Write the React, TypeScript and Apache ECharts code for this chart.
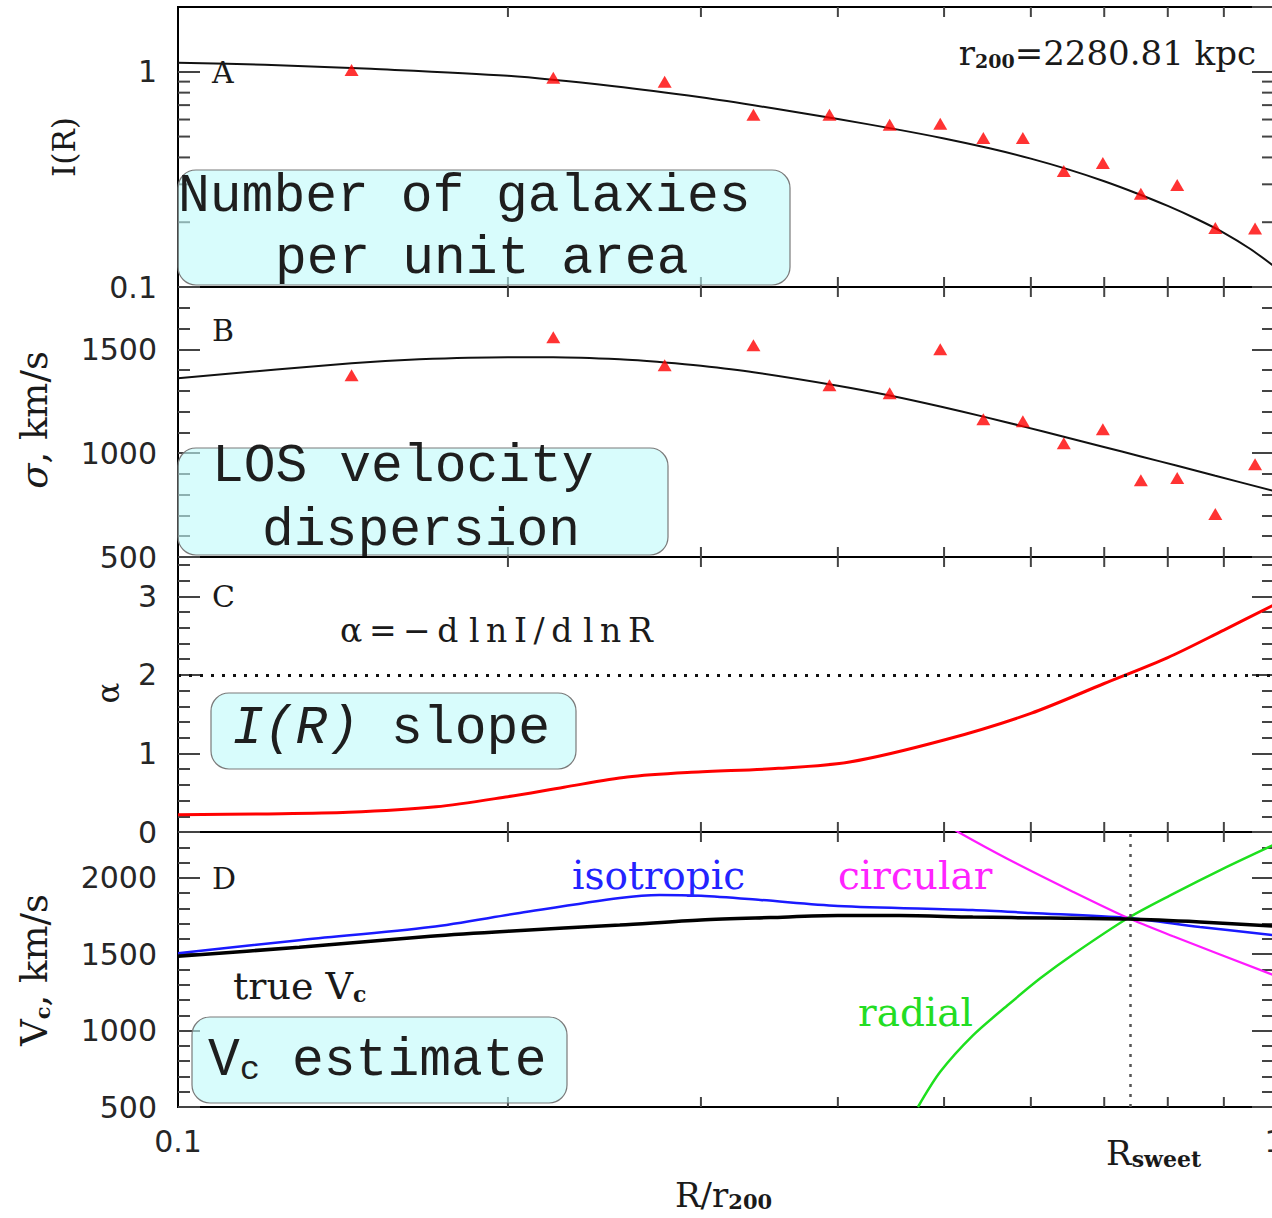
import React, { useEffect, useRef } from 'react';
import * as echarts from 'echarts';

// ---------------- data ----------------
const X_RANGE = [0.1, 1.0];
const X_MINOR_TICKS = [0.2, 0.3, 0.4, 0.5, 0.6, 0.7, 0.8, 0.9];
const A_Y_MINOR_TICKS = [0.2, 0.3, 0.4, 0.5, 0.6, 0.7, 0.8, 0.9];
const R_SWEET = 0.736;

// Panel A: surface density I(R)
const A_RANGE = [0.1, 2];
const A_PTS_R = [0.144, 0.22, 0.278, 0.335, 0.393, 0.446, 0.496, 0.543, 0.59, 0.643, 0.698, 0.756, 0.816, 0.884, 0.961];
const A_PTS_I = [1.02, 0.938, 0.899, 0.631, 0.631, 0.567, 0.573, 0.493, 0.493, 0.346, 0.377, 0.271, 0.298, 0.188, 0.187];
const A_FIT_R = [0.1, 0.12, 0.15, 0.2, 0.25, 0.3, 0.35, 0.4, 0.45, 0.5, 0.55, 0.6, 0.65, 0.7, 0.75, 0.8, 0.85, 0.9, 0.95, 1.0];
const A_FIT_I = [1.101, 1.078, 1.032, 0.958, 0.857, 0.761, 0.675, 0.603, 0.543, 0.49, 0.441, 0.395, 0.351, 0.31, 0.272, 0.238, 0.207, 0.1786, 0.151, 0.125];

// Panel B: LOS velocity dispersion
const B_RANGE = [500, 1800];
const B_STEPS = [100, 500];
const B_PTS_R = A_PTS_R;
const B_PTS_S = [1375, 1558, 1423, 1519, 1327, 1288, 1500, 1163, 1154, 1048, 1115, 870, 880, 707, 947];
const B_FIT_R = [0.1, 0.144, 0.166, 0.2, 0.22, 0.253, 0.278, 0.3, 0.335, 0.4, 0.446, 0.496, 0.543, 0.59, 0.643, 0.698, 0.756, 0.816, 0.884, 1.0];
const B_FIT_S = [1361, 1433, 1452, 1462, 1462, 1452, 1437, 1421, 1390, 1325, 1278, 1225, 1176, 1129, 1079, 1031, 984, 939, 891, 818];

// Panel C: slope alpha
const C_RANGE = [0, 3.5];
const C_STEPS = [0.2, 1];
const C_R = [0.1, 0.12, 0.143, 0.172, 0.2, 0.225, 0.257, 0.294, 0.353, 0.41, 0.5, 0.6, 0.7, 0.8, 0.9, 1.0];
const C_ALPHA = [0.22, 0.23, 0.25, 0.32, 0.45, 0.57, 0.7, 0.76, 0.81, 0.89, 1.17, 1.51, 1.89, 2.22, 2.57, 2.89];
const C_REF = 2;

// Panel D: circular velocity
const D_RANGE = [500, 2300];
const D_STEPS = [100, 500];
const D_TRUE_R = [0.1, 0.129, 0.17, 0.2, 0.253, 0.3, 0.347, 0.4, 0.455, 0.531, 0.625, 0.736, 0.856, 1.0];
const D_TRUE_V = [1487, 1546, 1618, 1651, 1691, 1724, 1740, 1753, 1753, 1743, 1737, 1730, 1711, 1684];
const D_ISO_R = [0.1, 0.129, 0.17, 0.205, 0.253, 0.275, 0.3, 0.34, 0.4, 0.531, 0.6, 0.736, 0.856, 1.0];
const D_ISO_V = [1507, 1592, 1678, 1770, 1868, 1888, 1882, 1855, 1816, 1789, 1770, 1737, 1678, 1625];
const D_CIRC_R = [0.505, 0.515, 0.571, 0.656, 0.736, 0.809, 1.0];
const D_CIRC_V = [2340, 2300, 2125, 1908, 1737, 1618, 1362];
const D_RAD_R = [0.4733, 0.496, 0.531, 0.571, 0.612, 0.656, 0.736, 0.809, 0.898, 1.0];
const D_RAD_V = [500, 730, 967, 1164, 1342, 1500, 1737, 1895, 2059, 2217];

// ---------------- styles ----------------
const SERIF = '"DejaVu Serif", serif';
const SANS = '"DejaVu Sans", sans-serif';
const MONO = '"Liberation Mono", "DejaVu Sans Mono", monospace';
const TICK_COLOR = '#444';
const LABEL_COLOR = '#262626';
const BOX_FILL = 'rgba(190,250,250,0.6)';
const TS = '\u2009';

const pairs = (xs: number[], ys: number[]) => xs.map((x, i) => [x, ys[i]]);
const fmt = (v: number) => String(+(+v).toPrecision(6));

const GRIDS = [
  { top: 7, height: 280 },
  { top: 287, height: 270 },
  { top: 557, height: 275 },
  { top: 832, height: 275 },
].map((g) => ({
  ...g, left: 178, width: 1096, show: true, borderColor: '#000', borderWidth: 2,
  backgroundColor: 'transparent', containLabel: false, outerBoundsMode: 'none',
}));

const tickLine = { color: TICK_COLOR, width: 2 };
const yLabel = { fontFamily: SANS, fontSize: 30, color: LABEL_COLOR, margin: 21, showMaxLabel: false, formatter: fmt };

function linearAxes(gridIndex: number, range: number[], steps: number[]) {
  const base = {
    type: 'value', gridIndex, min: range[0], max: range[1],
    splitLine: { show: false }, axisLine: { show: false },
  };
  return [
    { ...base, position: 'left', interval: steps[1], axisTick: { inside: true, length: 22, lineStyle: tickLine }, axisLabel: yLabel },
    { ...base, position: 'left', interval: steps[0], axisTick: { inside: true, length: 12, lineStyle: tickLine }, axisLabel: { show: false } },
    { ...base, position: 'right', interval: steps[1], axisTick: { inside: true, length: 22, lineStyle: tickLine }, axisLabel: { show: false } },
    { ...base, position: 'right', interval: steps[0], axisTick: { inside: true, length: 12, lineStyle: tickLine }, axisLabel: { show: false } },
  ];
}

function xTickSeries(gridIndex: number, yAxisIndex: number, yRef: number) {
  return {
    type: 'custom', xAxisIndex: gridIndex, yAxisIndex, silent: true, z: 6,
    data: X_MINOR_TICKS.map((v) => [v, yRef]),
    renderItem: (params: any, api: any) => {
      const cs = params.coordSys;
      const x = api.coord([api.value(0), api.value(1)])[0];
      const style = { stroke: TICK_COLOR, lineWidth: 2 };
      return {
        type: 'group',
        children: [
          { type: 'line', shape: { x1: x, y1: cs.y, x2: x, y2: cs.y + 10 }, style },
          { type: 'line', shape: { x1: x, y1: cs.y + cs.height, x2: x, y2: cs.y + cs.height - 10 }, style },
        ],
      };
    },
  };
}

const subRich = (mainFont: string, mainSize: number, subSize: number, pad: number, subBold = true, color = '#1a1a1a') => ({
  m: { fontFamily: mainFont, fontSize: mainSize, lineHeight: mainSize, fill: color, verticalAlign: 'top' },
  s: {
    fontFamily: mainFont, fontSize: subSize, lineHeight: subSize, fontWeight: subBold ? 'bold' : 'normal',
    fill: color, verticalAlign: 'bottom', padding: [pad, 0, 0, 0],
  },
});

function buildOption(): any {
  const xAxis = GRIDS.map((_, i) => ({
    type: 'log', gridIndex: i, min: X_RANGE[0], max: X_RANGE[1], position: 'bottom',
    axisLine: { show: false }, axisTick: { show: false }, splitLine: { show: false },
    axisLabel: i === 3 ? { fontFamily: SANS, fontSize: 30, color: LABEL_COLOR, margin: 19, formatter: fmt } : { show: false },
  }));

  const logBase = {
    type: 'log', gridIndex: 0, min: A_RANGE[0], max: A_RANGE[1],
    splitLine: { show: false }, axisLine: { show: false },
    axisTick: { inside: true, length: 22, lineStyle: tickLine },
  };
  const yAxis = [
    { ...logBase, position: 'left', axisLabel: yLabel },
    { ...logBase, position: 'right', axisLabel: { show: false } },
    ...linearAxes(1, B_RANGE, B_STEPS),
    ...linearAxes(2, C_RANGE, C_STEPS),
    ...linearAxes(3, D_RANGE, D_STEPS),
  ];

  const lineBase = { type: 'line', showSymbol: false, silent: true, smooth: 0.3, clip: true };

  const series: any[] = [
    xTickSeries(0, 0, 1),
    xTickSeries(1, 2, 1000),
    xTickSeries(2, 6, 1),
    xTickSeries(3, 10, 1000),
    {
      type: 'custom', xAxisIndex: 0, yAxisIndex: 0, silent: true, z: 6,
      data: A_Y_MINOR_TICKS.map((v) => [0.5, v]),
      renderItem: (params: any, api: any) => {
        const cs = params.coordSys;
        const y = api.coord([api.value(0), api.value(1)])[1];
        const style = { stroke: TICK_COLOR, lineWidth: 2 };
        return {
          type: 'group',
          children: [
            { type: 'line', shape: { x1: cs.x, y1: y, x2: cs.x + 12, y2: y }, style },
            { type: 'line', shape: { x1: cs.x + cs.width, y1: y, x2: cs.x + cs.width - 12, y2: y }, style },
          ],
        };
      },
    },
    // Panel A
    { ...lineBase, name: 'I fit', xAxisIndex: 0, yAxisIndex: 0, data: pairs(A_FIT_R, A_FIT_I), lineStyle: { color: '#111', width: 2 }, z: 3 },
    { type: 'scatter', name: 'I data', xAxisIndex: 0, yAxisIndex: 0, data: pairs(A_PTS_R, A_PTS_I), symbol: 'triangle', symbolSize: [14, 12], itemStyle: { color: '#ff0000' }, silent: true, z: 4 },
    // Panel B
    { ...lineBase, name: 'sigma fit', xAxisIndex: 1, yAxisIndex: 2, data: pairs(B_FIT_R, B_FIT_S), lineStyle: { color: '#111', width: 2 }, z: 3 },
    { type: 'scatter', name: 'sigma data', xAxisIndex: 1, yAxisIndex: 2, data: pairs(B_PTS_R, B_PTS_S), symbol: 'triangle', symbolSize: [14, 12], itemStyle: { color: '#ff0000' }, silent: true, z: 4 },
    // Panel C
    {
      ...lineBase, name: 'alpha', xAxisIndex: 2, yAxisIndex: 6, data: pairs(C_R, C_ALPHA), lineStyle: { color: '#ff0000', width: 3 }, z: 3,
      markLine: {
        silent: true, symbol: ['none', 'none'], label: { show: false },
        lineStyle: { color: '#111', width: 3, type: [3, 8] },
        data: [{ yAxis: C_REF }],
      },
    },
    // Panel D
    { ...lineBase, name: 'isotropic', xAxisIndex: 3, yAxisIndex: 10, data: pairs(D_ISO_R, D_ISO_V), lineStyle: { color: '#1a1aff', width: 2.5 }, z: 3 },
    { ...lineBase, name: 'circular', xAxisIndex: 3, yAxisIndex: 10, data: pairs(D_CIRC_R, D_CIRC_V), lineStyle: { color: '#ff1aff', width: 2.2 }, z: 3 },
    { ...lineBase, name: 'radial', xAxisIndex: 3, yAxisIndex: 10, data: pairs(D_RAD_R, D_RAD_V), lineStyle: { color: '#1ee01e', width: 2.5 }, z: 3 },
    {
      ...lineBase, name: 'true Vc', xAxisIndex: 3, yAxisIndex: 10, data: pairs(D_TRUE_R, D_TRUE_V), lineStyle: { color: '#000', width: 3.5 }, z: 4,
      markLine: {
        silent: true, symbol: ['none', 'none'], label: { show: false },
        lineStyle: { color: '#555', width: 2.5, type: [3, 7] },
        data: [{ xAxis: R_SWEET }],
      },
    },
  ];

  const serifText = (id: string, x: number, y: number, text: string, size: number, color = '#1a1a1a', extra: any = {}) => ({
    id, type: 'text', x, y, z: 50,
    style: { text, fontFamily: SERIF, fontSize: size, fill: color, align: 'left', verticalAlign: 'middle', ...extra },
  });

  const box = (id: string, x: number, y: number, w: number, h: number) => ({
    id, type: 'rect', z: 100, shape: { x, y, width: w, height: h, r: 18 },
    style: { fill: BOX_FILL, stroke: '#7a7a7a', lineWidth: 1.2 },
  });
  const mono = (id: string, x: number, y: number, text: string) => ({
    id, type: 'text', x, y, z: 101,
    style: { text, fontFamily: MONO, fontSize: 53, fill: '#1e1e1e', align: 'left', verticalAlign: 'middle' },
  });

  const alphaDef = ['\u03b1', '=', '\u2212', 'd'].join(TS) + ' ' + ['l', 'n', 'I', '/', 'd'].join(TS) + ' ' + ['l', 'n', 'R'].join(TS);

  const graphic = [
    serifText('lblA', 212, 72, 'A', 30),
    serifText('lblB', 212, 330, 'B', 30),
    serifText('lblC', 212, 596, 'C', 30),
    serifText('lblD', 212, 878, 'D', 30),
    {
      id: 'r200', type: 'text', x: 1256, y: 36, z: 50,
      style: { text: '{m|r}{s|200}{m|=2280.81 kpc}', align: 'right', verticalAlign: 'top', rich: subRich(SERIF, 34, 19, 21) },
    },
    serifText('alphaDef', 340, 630, alphaDef, 33),
    serifText('iso', 572, 875, 'isotropic', 39, '#2323ff'),
    serifText('circ', 838, 875, 'circular', 39, '#ff23ff'),
    serifText('rad', 858, 1012, 'radial', 39, '#23dd23'),
    {
      id: 'trueVc', type: 'text', x: 233, y: 967, z: 50,
      style: { text: '{m|true V}{s|c}', align: 'left', verticalAlign: 'top', rich: subRich(SERIF, 38, 22, 23) },
    },
    {
      id: 'xname', type: 'text', x: 675, y: 1178, z: 50,
      style: { text: '{m|R/r}{s|200}', align: 'left', verticalAlign: 'top', rich: subRich(SERIF, 34, 21, 20) },
    },
    // y axis names (rotated)
    { id: 'yA', type: 'text', x: 64, y: 147, rotation: Math.PI / 2, z: 50, style: { text: 'I(R)', fontFamily: SERIF, fontSize: 31, fill: '#1a1a1a', align: 'center', verticalAlign: 'middle' } },
    {
      id: 'yB', type: 'text', x: 34, y: 420, rotation: Math.PI / 2, z: 50,
      style: {
        text: '{i|\u03c3}{m|, km/s}', align: 'center', verticalAlign: 'middle',
        rich: {
          i: { fontFamily: SERIF, fontSize: 37, fontStyle: 'italic', fill: '#1a1a1a' },
          m: { fontFamily: SERIF, fontSize: 37, fill: '#1a1a1a' },
        },
      },
    },
    { id: 'yC', type: 'text', x: 108, y: 693, rotation: Math.PI / 2, z: 50, style: { text: '\u03b1', fontFamily: SERIF, fontSize: 31, fill: '#1a1a1a', align: 'center', verticalAlign: 'middle' } },
    {
      id: 'yD', type: 'text', x: 34, y: 970, rotation: Math.PI / 2, z: 50,
      style: { text: '{m|V}{s|c}{m|, km/s}', align: 'center', verticalAlign: 'middle', rich: subRich(SERIF, 37, 21, 21) },
    },
    // cyan boxes
    box('boxA', 178, 170, 612, 115),
    mono('boxA1', 178, 197, 'Number of galaxies'),
    mono('boxA2', 275, 259, 'per unit area'),
    box('boxB', 178, 448, 490, 107),
    mono('boxB1', 212, 467, 'LOS velocity'),
    mono('boxB2', 262, 531, 'dispersion'),
    box('boxC', 211, 693, 365, 76),
    {
      id: 'boxC1', type: 'text', x: 232, y: 729, z: 101,
      style: {
        text: '{i|I(R)}{m| slope}', align: 'left', verticalAlign: 'middle',
        rich: {
          i: { fontFamily: MONO, fontSize: 53, fontStyle: 'italic', fill: '#1e1e1e' },
          m: { fontFamily: MONO, fontSize: 53, fill: '#1e1e1e' },
        },
      },
    },
    box('boxD', 192, 1017, 375, 86),
    {
      id: 'boxD1', type: 'text', x: 208, y: 1034, z: 101,
      style: { text: '{m|V}{s|c}{m| estimate}', align: 'left', verticalAlign: 'top', rich: subRich(MONO, 53, 34, 19, false, '#1e1e1e') },
    },
  ];

  return {
    animation: false,
    backgroundColor: '#ffffff',
    grid: GRIDS,
    xAxis,
    yAxis,
    series,
    graphic: { elements: graphic },
  };
}

export default function App() {
  const ref = useRef<HTMLDivElement>(null);
  useEffect(() => {
    const chart = echarts.init(ref.current as HTMLDivElement, null, { renderer: 'svg' });
    chart.setOption(buildOption());
    const px = chart.convertToPixel({ xAxisIndex: 3 }, R_SWEET) as unknown as number;
    chart.setOption({
      graphic: {
        elements: [
          {
            id: 'rsweet', type: 'text', x: px - 22, y: 1136, z: 50,
            style: { text: '{m|R}{s|sweet}', align: 'left', verticalAlign: 'top', rich: subRich(SERIF, 34, 22, 22) },
          },
        ],
      },
    });
    return () => chart.dispose();
  }, []);
  return (
    <div
      ref={ref}
      style={{ position: 'fixed', left: 0, top: 0, width: 1272, height: 1218, background: '#fff' }}
    />
  );
}
